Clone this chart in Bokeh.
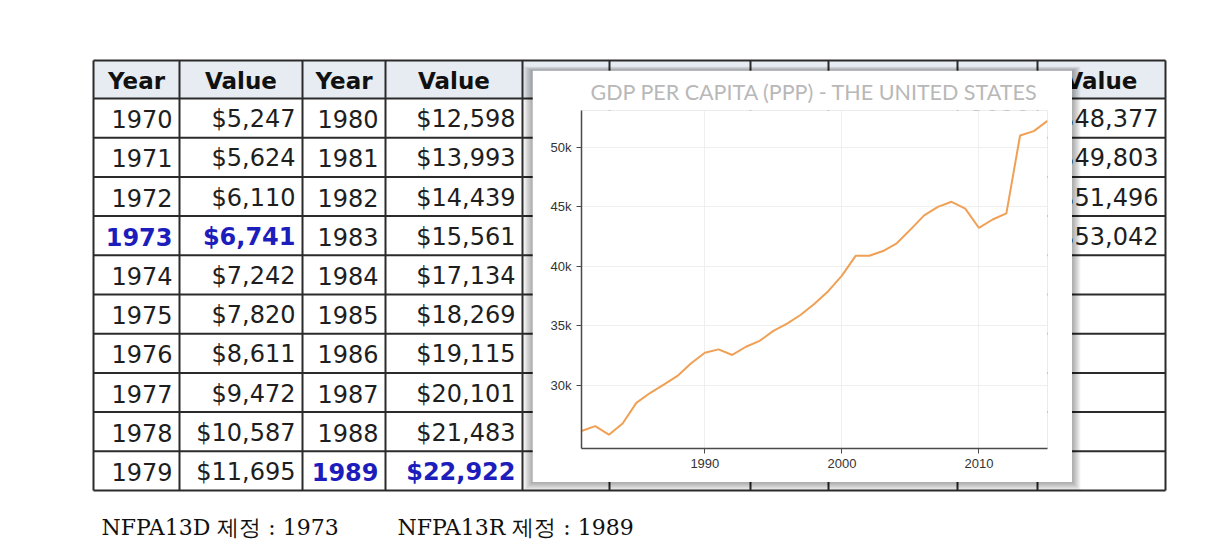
from bokeh.plotting import figure
from bokeh.models import Range1d, FixedTicker, NumeralTickFormatter
from bokeh.layouts import column
from bokeh.core.properties import value
from bokeh.embed import file_html
from bokeh.resources import INLINE

# ---------------- data ----------------
header_labels = ["Year", "Value", "Year", "Value", "Year", "Value", "Year", "Value", "Year", "Value"]

years_1970s = [1970, 1971, 1972, 1973, 1974, 1975, 1976, 1977, 1978, 1979]
values_1970s = [5247, 5624, 6110, 6741, 7242, 7820, 8611, 9472, 10587, 11695]
years_1980s = [1980, 1981, 1982, 1983, 1984, 1985, 1986, 1987, 1988, 1989]
values_1980s = [12598, 13993, 14439, 15561, 17134, 18269, 19115, 20101, 21483, 22922]
years_2010s = [2010, 2011, 2012, 2013]
values_2010s = [48377, 49803, 51496, 53042]
highlight_years = [1973, 1989]

gdp_years = [1981, 1982, 1983, 1984, 1985, 1986, 1987, 1988, 1989, 1990,
             1991, 1992, 1993, 1994, 1995, 1996, 1997, 1998, 1999, 2000,
             2001, 2002, 2003, 2004, 2005, 2006, 2007, 2008, 2009, 2010,
             2011, 2012, 2013, 2014, 2015]
gdp_values = [26170, 26580, 25860, 26800, 28530, 29360, 30060, 30800, 31860, 32750,
              33030, 32560, 33250, 33750, 34580, 35190, 35940, 36860, 37920, 39220,
              40890, 40890, 41290, 41940, 43090, 44290, 45000, 45430, 44860, 43230,
              43940, 44460, 51000, 51370, 52230]
x_ticks = [1990, 2000, 2010]
y_ticks = [30000, 35000, 40000, 45000, 50000]
chart_title = "GDP PER CAPITA (PPP) - THE UNITED STATES"

note_labels = ["NFPA13D 제정 : 1973", "NFPA13R 제정 :  1989"]

# ---------------- layout constants (page pixels) ----------------
PAGE_W, PAGE_H = 1216, 552
col_edges = [93, 179, 302, 385, 522, 609, 750, 828, 957, 1037, 1165]
header_top, header_bottom, row_h, n_rows = 60, 98, 39.2, 10
popup = dict(left=532, right=1072, top=70, bottom=482)
# chart popup borders (also used by the table figure so column frame-alignment is neutral)
B_LEFT, B_RIGHT, B_TOP, B_BOTTOM = 49, 25, 40, 34
PAD = 7

FONT = value("DejaVu Sans")
BLUE = "#1d1dbb"

# ---------------- table figure ----------------
t = figure(width=PAGE_W, height=PAGE_H,
           x_range=Range1d(B_LEFT, PAGE_W - B_RIGHT), y_range=Range1d(PAGE_H, 0),
           min_border_left=B_LEFT, min_border_right=B_RIGHT, min_border_top=0, min_border_bottom=0,
           toolbar_location=None, output_backend="svg",
           x_axis_type=None, y_axis_type=None)
t.grid.visible = False
t.outline_line_color = None
t.background_fill_color = "white"
t.border_fill_color = "white"

# header background
t.quad(left=[col_edges[0]], right=[col_edges[-1]], top=[header_top], bottom=[header_bottom],
       fill_color="#e7ecf2", line_color=None)

row_edges = [header_top, header_bottom] + [header_bottom + row_h * (i + 1) for i in range(n_rows)]
t.segment(x0=[col_edges[0]] * len(row_edges), y0=row_edges,
          x1=[col_edges[-1]] * len(row_edges), y1=row_edges,
          line_color="#2b2b2b", line_width=2)
t.segment(x0=col_edges, y0=[row_edges[0]] * len(col_edges),
          x1=col_edges, y1=[row_edges[-1]] * len(col_edges),
          line_color="#2b2b2b", line_width=2)

# header labels
hx = [(col_edges[i] + col_edges[i + 1]) / 2 for i in range(len(header_labels))]
t.text(x=hx, y=[(header_top + header_bottom) / 2 + 1] * len(hx), text=header_labels,
       text_font=FONT, text_font_size="23px", text_font_style="bold", text_color="#111111",
       text_align="center", text_baseline="middle")


def row_center(i):
    return header_bottom + row_h * i + row_h / 2 + 1


norm = dict(x=[], y=[], text=[])
hl = dict(x=[], y=[], text=[])
for pair, yrs, vals in [(0, years_1970s, values_1970s), (1, years_1980s, values_1980s),
                        (4, years_2010s, values_2010s)]:
    yc = 2 * pair
    for i, (yr, v) in enumerate(zip(yrs, vals)):
        d = hl if yr in highlight_years else norm
        d["x"] += [col_edges[yc + 1] - PAD, col_edges[yc + 2] - PAD]
        d["y"] += [row_center(i)] * 2
        d["text"] += [str(yr), f"${v:,}"]

t.text(x=norm["x"], y=norm["y"], text=norm["text"], text_font=FONT, text_font_size="24px",
       text_color="#1e1e1e", text_align="right", text_baseline="middle")
t.text(x=hl["x"], y=hl["y"], text=hl["text"], text_font=FONT, text_font_size="24px",
       text_font_style="bold", text_color=BLUE, text_align="right", text_baseline="middle")

# popup shadow
for k in range(1, 9):
    t.quad(left=[popup["left"] - k * 1.1], right=[popup["right"] + k],
           top=[popup["top"] - k * 0.5], bottom=[popup["bottom"] + k],
           fill_color="black", fill_alpha=0.045, line_color=None)

# note under the table
t.text(x=[101, 397], y=[527, 527], text=note_labels,
       text_font=value("DejaVu Serif"), text_font_size="22px",
       text_color="#111111", text_align="left", text_baseline="middle")

# ---------------- chart figure (popup) ----------------
c = figure(frame_width=popup["right"] - popup["left"] - B_LEFT - B_RIGHT,
           frame_height=popup["bottom"] - popup["top"] - B_TOP - B_BOTTOM,
           x_range=Range1d(1981, 2015), y_range=Range1d(24700, 53100),
           min_border_left=B_LEFT, min_border_right=B_RIGHT,
           min_border_top=B_TOP, min_border_bottom=B_BOTTOM,
           toolbar_location=None, output_backend="svg")
c.line(gdp_years, gdp_values, line_color="#f0a055", line_width=2)

c.title.text = chart_title
c.title.align = "center"
c.title.text_color = "#b8b8b8"
c.title.text_font = "Lato"
c.title.text_font_size = "21.5px"
c.title.text_font_style = "normal"
c.title.standoff = 11

c.outline_line_color = None
c.background_fill_color = "white"
c.border_fill_color = "white"
c.xaxis.ticker = FixedTicker(ticks=x_ticks)
c.yaxis.ticker = FixedTicker(ticks=y_ticks)
c.yaxis.formatter = NumeralTickFormatter(format="0a")
for ax in (c.xaxis, c.yaxis):
    ax.axis_line_color = "#4a4a4a"
    ax.axis_line_width = 1.5
    ax.major_tick_line_color = "#4a4a4a"
    ax.major_tick_out = 5
    ax.major_tick_in = 0
    ax.minor_tick_line_color = None
    ax.major_label_text_font = "Liberation Sans"
    ax.major_label_text_font_size = "13px"
    ax.major_label_text_color = "#333333"
    ax.major_label_standoff = 5
c.grid.grid_line_color = "#efefef"
c.grid.grid_line_width = 1

# overlay the popup on the table: pull it up over the table figure
c.margin = (-(PAGE_H - popup["top"]), 0, 0, popup["left"])

layout = column(t, c)
open("out.html", "w").write(file_html(layout, INLINE))
